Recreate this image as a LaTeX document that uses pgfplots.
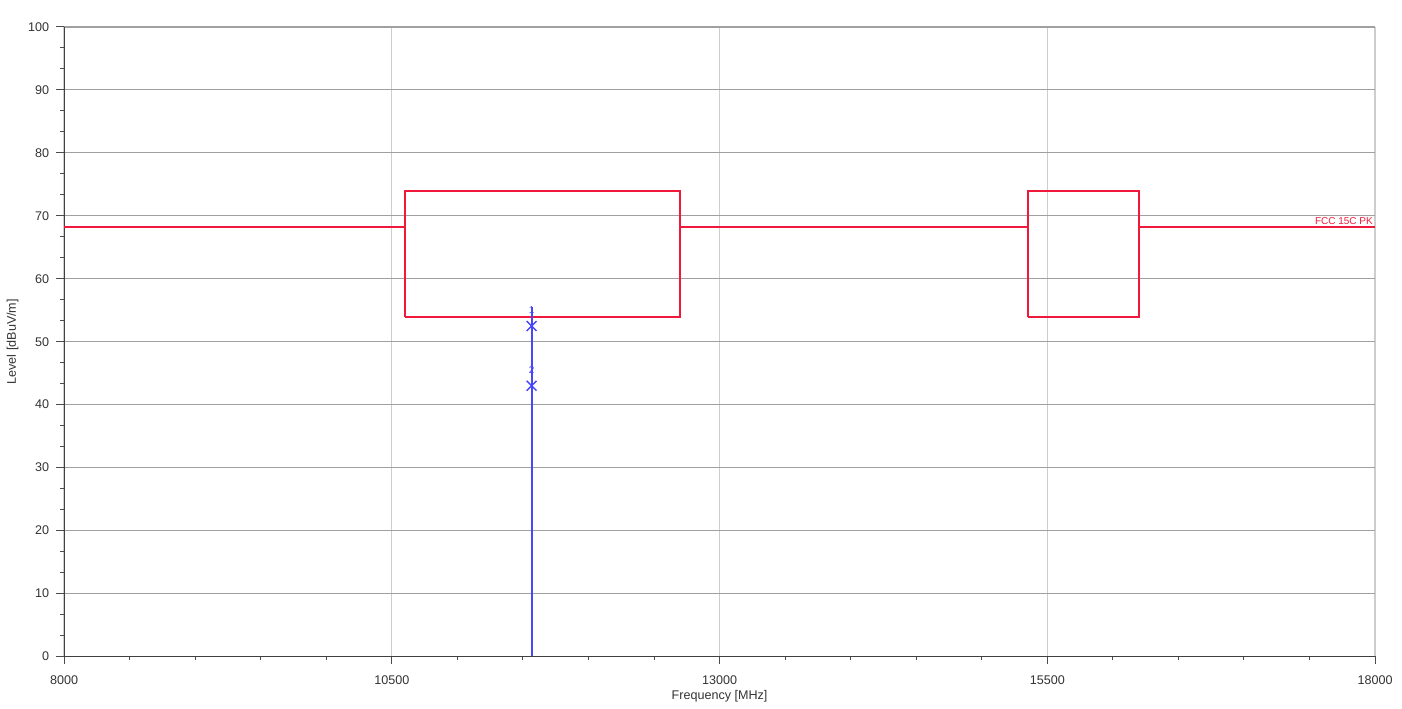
\documentclass[border=0pt]{standalone}
\usepackage{fontspec}
\setmainfont{Liberation Sans}
\usepackage{pgfplots}
\pgfplotsset{compat=1.18}
\definecolor{limred}{RGB}{240,25,60}
\definecolor{trblue}{RGB}{70,70,250}
\definecolor{hgrid}{RGB}{160,160,160}
\definecolor{vgrid}{RGB}{205,205,205}
\begin{document}
\begin{tikzpicture}
\begin{axis}[
  scale only axis,
  width=657pt, height=315.5pt,
  xmin=8000, xmax=18000, ymin=0, ymax=100,
  axis lines=left,
  axis line style={draw=black!75, -},
  xtick={8000,10500,13000,15500,18000},
  minor xtick={8500,9000,9500,10000,11000,11500,12000,12500,13500,14000,14500,15000,16000,16500,17000,17500},
  scaled x ticks=false,
  ytick={0,10,...,100},
  minor y tick num=2,
  xmajorgrids, ymajorgrids,
  x grid style={vgrid, line width=0.6pt},
  y grid style={hgrid, line width=0.6pt},
  tick style={black!70, line width=0.5pt},
  tick align=outside,
  major tick length=4pt, minor tick length=2pt,
  /pgf/number format/assume math mode=true,
  /pgf/number format/1000 sep={},
  ticklabel style={font=\fontsize{6.3}{8}\selectfont, text=black!80},
  xticklabel style={yshift=-2pt},
  xlabel={Frequency [MHz]},
  ylabel={Level [dBuV/m]},
  label style={font=\fontsize{6.3}{8}\selectfont, text=black!80},
  xlabel style={yshift=4pt},
  ylabel style={yshift=-2pt},
  clip=false,
]
% limit line
\addplot[draw=limred, line width=1pt] coordinates {(8000,68.2)(10600,68.2)};
\addplot[draw=limred, line width=1pt] coordinates {(10600,54)(10600,74)(12700,74)(12700,54)(10600,54)};
\addplot[draw=limred, line width=1pt] coordinates {(12700,68.2)(15350,68.2)};
\addplot[draw=limred, line width=1pt] coordinates {(15350,54)(15350,74)(16200,74)(16200,54)(15350,54)};
\addplot[draw=limred, line width=1pt] coordinates {(16200,68.2)(18000,68.2)};
% trace
\addplot[draw=trblue, line width=1pt] coordinates {(11566,0)(11566,55.5)};
% markers
\addplot[trblue, only marks, mark=x, mark size=3.5pt, line width=0.7pt,
  nodes near coords, point meta=explicit symbolic,
  every node near coord/.style={font=\fontsize{5}{6}\selectfont, text=trblue, yshift=2.5pt}]
  coordinates {(11566,52.5)[1] (11566,43.0)[2]};
\node[anchor=south east, font=\fontsize{5}{6}\selectfont, text=limred, inner sep=1pt] at (axis cs:18000,68.2) {FCC 15C PK};
\end{axis}
\useasboundingbox (-30.5pt,-23pt) rectangle (670.5pt,329pt);
\end{tikzpicture}
\end{document}
